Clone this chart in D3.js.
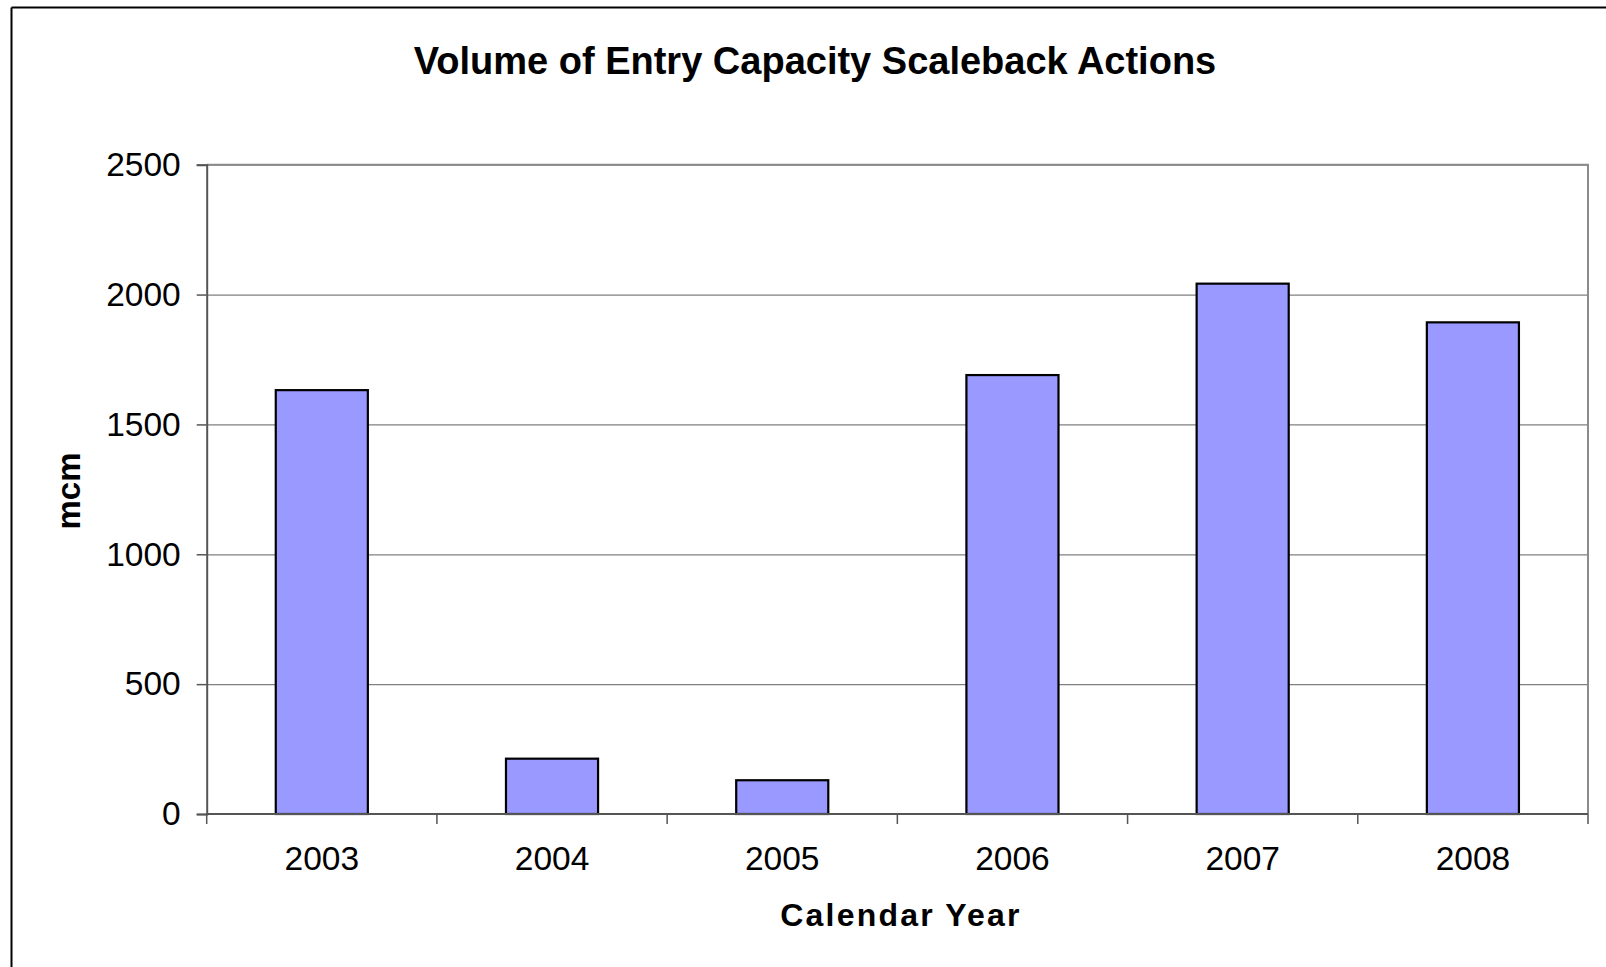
<!DOCTYPE html>
<html>
<head>
<meta charset="utf-8">
<script src="https://cdn.jsdelivr.net/npm/d3@7/dist/d3.min.js"></script>
<style>
  html, body { margin: 0; padding: 0; background: #fff; }
  svg { display: block; font-family: "Liberation Sans", Arial, Helvetica, sans-serif; }
</style>
</head>
<body>
<svg id="chart" width="1606" height="967"></svg>
<script>
// Annual volume of entry capacity scaleback actions (mcm)
const years = ["2003", "2004", "2005", "2006", "2007", "2008"];
const volumes = [1632, 213, 130, 1690, 2042, 1893];
const yTicks = [0, 500, 1000, 1500, 2000, 2500];

const W = 1606, H = 967;
const plot = { left: 206.7, right: 1588, top: 164.7, bottom: 814 };

const svg = d3.select("#chart");

// outer chart frame (only top and left edges fall inside the view)
svg.append("line").attr("x1", 11.5).attr("x2", W).attr("y1", 7.5).attr("y2", 7.5)
  .attr("stroke", "#000").attr("stroke-width", 2);
svg.append("line").attr("x1", 11.5).attr("x2", 11.5).attr("y1", 7.5).attr("y2", H)
  .attr("stroke", "#000").attr("stroke-width", 2);

const x = d3.scaleBand()
  .domain(years)
  .range([plot.left, plot.right])
  .paddingInner(0.6)
  .paddingOuter(0.3);

const y = d3.scaleLinear()
  .domain([0, 2500])
  .range([plot.bottom, plot.top]);

// horizontal gridlines
svg.append("g")
  .attr("transform", `translate(${plot.left},0)`)
  .call(d3.axisLeft(y).tickValues(yTicks.slice(1)).tickSize(-(plot.right - plot.left)).tickFormat(""))
  .call(g => g.select(".domain").remove())
  .call(g => g.selectAll("line").attr("stroke", "#808080").attr("stroke-width", 1.2));

// plot area top and right edges
svg.append("path")
  .attr("d", `M${plot.left},${plot.top}H${plot.right}V${plot.bottom}`)
  .attr("fill", "none").attr("stroke", "#8c8c8c").attr("stroke-width", 2);

// bars
svg.append("g").selectAll("rect")
  .data(years.map((yr, i) => ({ yr, v: volumes[i] })))
  .join("rect")
  .attr("x", d => x(d.yr))
  .attr("y", d => y(d.v))
  .attr("width", x.bandwidth())
  .attr("height", d => y(0) - y(d.v))
  .attr("fill", "#9999ff")
  .attr("stroke", "#000")
  .attr("stroke-width", 2.2);

// y axis
const yAxis = svg.append("g")
  .attr("transform", `translate(${plot.left},0)`)
  .call(d3.axisLeft(y).tickValues(yTicks).tickSize(10).tickPadding(16).tickFormat(d3.format("d")));
yAxis.select(".domain").attr("stroke", "#555").attr("stroke-width", 2);
yAxis.selectAll(".tick line").attr("stroke", "#555").attr("stroke-width", 1.5);
yAxis.selectAll(".tick text")
  .attr("font-size", 33.5).attr("fill", "#000")
  .attr("font-family", "\"Liberation Sans\", Arial, sans-serif");

// x axis: ticks at category boundaries, labels centred on bars
const step = x.step();
const edge0 = x(years[0]) - step * x.paddingOuter();
const bounds = d3.range(years.length + 1).map(i => edge0 + i * step);
const xAxis = svg.append("g");
xAxis.append("line")
  .attr("x1", plot.left).attr("x2", plot.right)
  .attr("y1", plot.bottom).attr("y2", plot.bottom)
  .attr("stroke", "#555").attr("stroke-width", 2);
xAxis.selectAll(".xtick").data(bounds).join("line")
  .attr("class", "xtick")
  .attr("x1", d => d).attr("x2", d => d)
  .attr("y1", plot.bottom).attr("y2", plot.bottom + 10)
  .attr("stroke", "#555").attr("stroke-width", 1.5);
xAxis.selectAll(".xlabel").data(years).join("text")
  .attr("class", "xlabel")
  .attr("x", d => x(d) + x.bandwidth() / 2)
  .attr("y", 870)
  .attr("text-anchor", "middle")
  .attr("font-size", 33.5)
  .attr("fill", "#000")
  .text(d => d);

// titles
svg.append("text")
  .attr("x", 815).attr("y", 74)
  .attr("text-anchor", "middle")
  .attr("font-size", 38).attr("font-weight", "bold")
  .text("Volume of Entry Capacity Scaleback Actions");

svg.append("text")
  .attr("x", 901).attr("y", 926)
  .attr("text-anchor", "middle")
  .attr("font-size", 32).attr("font-weight", "bold")
  .attr("letter-spacing", 2.2)
  .text("Calendar Year");

svg.append("text")
  .attr("transform", "translate(80,491) rotate(-90)")
  .attr("text-anchor", "middle")
  .attr("font-size", 33).attr("font-weight", "bold")
  .text("mcm");
</script>
</body>
</html>
